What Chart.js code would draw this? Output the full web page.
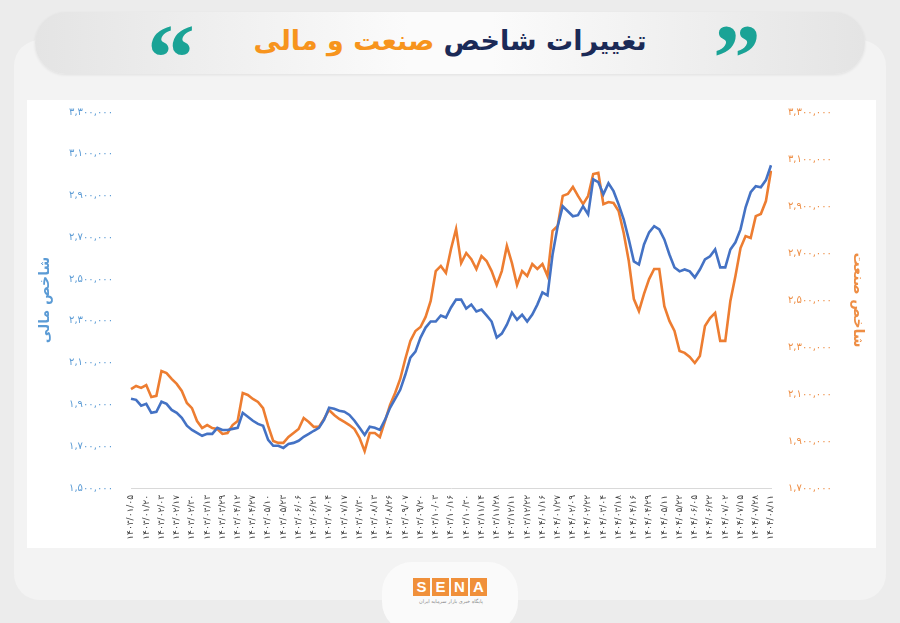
<!DOCTYPE html>
<html>
<head>
<meta charset="utf-8">
<script src="https://cdn.jsdelivr.net/npm/chart.js@4/dist/chart.umd.min.js"></script>
<style>
    html, body { margin: 0; padding: 0; }
    body { width: 900px; height: 623px; background: #ececec; position: relative; overflow: hidden; font-family: "DejaVu Sans", sans-serif; }
    .card { position: absolute; left: 14px; top: 40px; width: 872px; height: 560px; background: #f3f3f3; border-radius: 26px; }
    .header { position: absolute; left: 35px; top: 12px; width: 830px; height: 62px; border-radius: 31px;
        background: linear-gradient(to right, #e4e4e4, #fbfbfb 45%, #fbfbfb 55%, #e4e4e4); box-shadow: 0 1px 3px rgba(0,0,0,0.08); }
    .title { position: absolute; left: 0; top: 9px; width: 830px; text-align: center; font-size: 27px; font-weight: bold; color: #1b2a57; line-height: 40px; }
    .title span { color: #f7941d; }
    .quote { position: absolute; top: -2px; font-family: "Liberation Serif", serif; font-weight: bold; font-size: 96px; line-height: 96px; color: #1aa396; }
    .plot { position: absolute; left: 27px; top: 100px; width: 849px; height: 448px; background: #ffffff; }
    .logo-tab { position: absolute; left: 382px; top: 562px; width: 136px; height: 70px; background: #fafafa; border-radius: 30px; }
    .logo { position: absolute; left: 413px; top: 578px; display: flex; gap: 2px; }
    .logo div { width: 17px; height: 18px; background: #f0903a; color: #fff; font: bold 15px "Liberation Sans", sans-serif; text-align: center; line-height: 18px; }
    .tag { position: absolute; left: 405px; top: 598px; width: 92px; text-align: center; font-size: 5px; color: #888; }
</style>
</head>
<body>
<div class="card"></div>
<div class="header">
    <div class="quote" style="left: 112px;">&#8220;</div>
    <div class="quote" style="left: 678px;">&#8221;</div>
    <div class="title" dir="rtl">تغییرات شاخص <span>صنعت و مالی</span></div>
</div>
<div class="plot"><canvas id="chart"></canvas></div>
<div class="logo-tab"></div>
<div class="logo"><div>S</div><div>E</div><div>N</div><div>A</div></div>
<div class="tag" dir="rtl">پایگاه خبری بازار سرمایه ایران</div>

<script>
// tick dates on the x axis (one every 3 points)
const tickDates = [
    '۱۴۰۳/۰۱/۰۵', '۱۴۰۳/۰۱/۲۰', '۱۴۰۳/۰۲/۰۳', '۱۴۰۳/۰۲/۱۷', '۱۴۰۳/۰۲/۳۰', '۱۴۰۳/۰۳/۱۳',
    '۱۴۰۳/۰۳/۲۹', '۱۴۰۳/۰۴/۱۲', '۱۴۰۳/۰۴/۲۷', '۱۴۰۳/۰۵/۱۰', '۱۴۰۳/۰۵/۲۳', '۱۴۰۳/۰۶/۰۶',
    '۱۴۰۳/۰۶/۲۱', '۱۴۰۳/۰۷/۰۴', '۱۴۰۳/۰۷/۱۷', '۱۴۰۳/۰۷/۳۰', '۱۴۰۳/۰۸/۱۳', '۱۴۰۳/۰۸/۲۶',
    '۱۴۰۳/۰۹/۰۷', '۱۴۰۳/۰۹/۲۰', '۱۴۰۳/۱۰/۰۳', '۱۴۰۳/۱۰/۱۶', '۱۴۰۳/۱۰/۳۰', '۱۴۰۳/۱۱/۱۴',
    '۱۴۰۳/۱۱/۲۸', '۱۴۰۳/۱۲/۱۱', '۱۴۰۳/۱۲/۲۲', '۱۴۰۴/۰۱/۱۶', '۱۴۰۴/۰۱/۲۷', '۱۴۰۴/۰۲/۰۹',
    '۱۴۰۴/۰۲/۲۲', '۱۴۰۴/۰۳/۰۴', '۱۴۰۴/۰۳/۱۸', '۱۴۰۴/۰۴/۱۶', '۱۴۰۴/۰۴/۲۹', '۱۴۰۴/۰۵/۱۱',
    '۱۴۰۴/۰۵/۲۲', '۱۴۰۴/۰۶/۰۵', '۱۴۰۴/۰۶/۲۲', '۱۴۰۴/۰۷/۰۲', '۱۴۰۴/۰۷/۱۵', '۱۴۰۴/۰۷/۲۸',
    '۱۴۰۴/۰۸/۱۱'
];
const pointsPerTick = 3;

// شاخص مالی (left axis)
const financeIndex = [
    1927000, 1922000, 1894000, 1903000, 1860000, 1865000, 1913000, 1903000, 1874000, 1860000,
    1836000, 1798000, 1778000, 1764000, 1750000, 1759000, 1759000, 1788000, 1778000, 1778000,
    1783000, 1788000, 1860000, 1841000, 1822000, 1807000, 1798000, 1730000, 1702000, 1702000,
    1692000, 1711000, 1716000, 1726000, 1745000, 1759000, 1774000, 1788000, 1826000, 1884000,
    1879000, 1870000, 1865000, 1850000, 1822000, 1788000, 1754000, 1793000, 1788000, 1778000,
    1826000, 1884000, 1927000, 1970000, 2042000, 2124000, 2153000, 2220000, 2268000, 2297000,
    2297000, 2326000, 2316000, 2364000, 2402000, 2402000, 2359000, 2378000, 2345000, 2354000,
    2326000, 2297000, 2220000, 2239000, 2282000, 2340000, 2306000, 2330000, 2297000, 2330000,
    2378000, 2436000, 2422000, 2618000, 2753000, 2849000, 2825000, 2801000, 2806000, 2849000,
    2810000, 2978000, 2964000, 2906000, 2959000, 2921000, 2858000, 2786000, 2690000, 2585000,
    2570000, 2666000, 2724000, 2753000, 2738000, 2690000, 2618000, 2556000, 2537000, 2546000,
    2537000, 2508000, 2546000, 2594000, 2609000, 2642000, 2556000, 2556000, 2642000, 2676000,
    2738000, 2844000, 2916000, 2945000, 2940000, 2974000, 3045000
];

// شاخص صنعت (right axis)
const industryIndex = [
    2121000, 2134000, 2126000, 2138000, 2087000, 2092000, 2198000, 2189000, 2164000, 2143000,
    2113000, 2062000, 2040000, 1985000, 1955000, 1968000, 1955000, 1951000, 1930000, 1934000,
    1968000, 1985000, 2104000, 2096000, 2079000, 2066000, 2040000, 1964000, 1900000, 1892000,
    1892000, 1917000, 1934000, 1951000, 1998000, 1981000, 1960000, 1960000, 1994000, 2032000,
    2011000, 1994000, 1981000, 1968000, 1951000, 1913000, 1857000, 1934000, 1934000, 1917000,
    1985000, 2053000, 2104000, 2164000, 2249000, 2326000, 2368000, 2385000, 2428000, 2496000,
    2623000, 2645000, 2615000, 2717000, 2802000, 2657000, 2700000, 2674000, 2632000, 2687000,
    2666000, 2623000, 2564000, 2623000, 2730000, 2657000, 2564000, 2623000, 2602000, 2653000,
    2632000, 2653000, 2602000, 2794000, 2815000, 2943000, 2951000, 2981000, 2943000, 2908000,
    2943000, 3036000, 3041000, 2908000, 2917000, 2913000, 2879000, 2785000, 2666000, 2504000,
    2453000, 2526000, 2589000, 2632000, 2632000, 2474000, 2411000, 2368000, 2283000, 2275000,
    2258000, 2232000, 2262000, 2389000, 2423000, 2445000, 2326000, 2326000, 2496000, 2602000,
    2721000, 2772000, 2764000, 2857000, 2866000, 2921000, 3050000
];

const leftTicks = { min: 1500000, max: 3300000, step: 200000 };
const rightTicks = { min: 1700000, max: 3300000, step: 200000 };

// persian digits with latin commas
const toFa = (v) => String(v).replace(/\B(?=(\d{3})+(?!\d))/g, ',').replace(/\d/g, d => '۰۱۲۳۴۵۶۷۸۹'[d]);

const labels = financeIndex.map((_, i) => i % pointsPerTick === 0 ? tickDates[i / pointsPerTick] : '');

const blue = '#4472c4';
const orange = '#ed7d31';

// fixed axis widths so the plot area lines up with the picture
const fixWidth = (w) => (scale) => {
    scale.width = w;
    scale.paddingTop = 0;
    scale.paddingBottom = 0;
};

new Chart(document.getElementById('chart'), {
    type: 'line',
    data: {
        labels: labels,
        datasets: [
            {
                label: 'شاخص مالی',
                data: financeIndex,
                borderColor: blue,
                borderWidth: 2.6,
                pointRadius: 0,
                yAxisID: 'yLeft'
            },
            {
                label: 'شاخص صنعت',
                data: industryIndex,
                borderColor: orange,
                borderWidth: 2.6,
                pointRadius: 0,
                yAxisID: 'yRight'
            }
        ]
    },
    options: {
        responsive: true,
        maintainAspectRatio: false,
        animation: false,
        layout: { padding: { top: 12, left: 0, right: 0, bottom: 0 } },
        plugins: {
            legend: { display: false },
            tooltip: { enabled: false }
        },
        scales: {
            x: {
                grid: { display: false, drawTicks: false },
                border: { display: true, color: '#d9d9d9', width: 1 },
                ticks: {
                    autoSkip: false,
                    minRotation: 90,
                    maxRotation: 90,
                    padding: 7,
                    color: '#404040',
                    font: { family: 'DejaVu Sans', size: 9 }
                },
                afterFit: (scale) => { scale.height = 60; }
            },
            yLeft: {
                position: 'left',
                min: leftTicks.min,
                max: leftTicks.max,
                grid: { display: false, drawTicks: false },
                border: { display: false },
                ticks: {
                    stepSize: leftTicks.step,
                    padding: 18,
                    color: '#5b9bd5',
                    font: { family: 'DejaVu Sans', size: 10 },
                    callback: (v) => toFa(v)
                },
                title: {
                    display: true,
                    text: 'شاخص مالی',
                    color: '#5b9bd5',
                    padding: 10,
                    font: { family: 'DejaVu Sans', size: 14, weight: 'bold' }
                },
                afterFit: fixWidth(104)
            },
            yRight: {
                position: 'right',
                min: rightTicks.min,
                max: rightTicks.max,
                grid: { display: false, drawTicks: false },
                border: { display: false },
                ticks: {
                    stepSize: rightTicks.step,
                    padding: 17,
                    color: '#ee8e45',
                    font: { family: 'DejaVu Sans', size: 10 },
                    callback: (v) => toFa(v)
                },
                title: {
                    display: true,
                    text: 'شاخص صنعت',
                    color: '#ee8e45',
                    padding: 10,
                    font: { family: 'DejaVu Sans', size: 14, weight: 'bold' }
                },
                afterFit: fixWidth(105)
            }
        }
    }
});
</script>
</body>
</html>
